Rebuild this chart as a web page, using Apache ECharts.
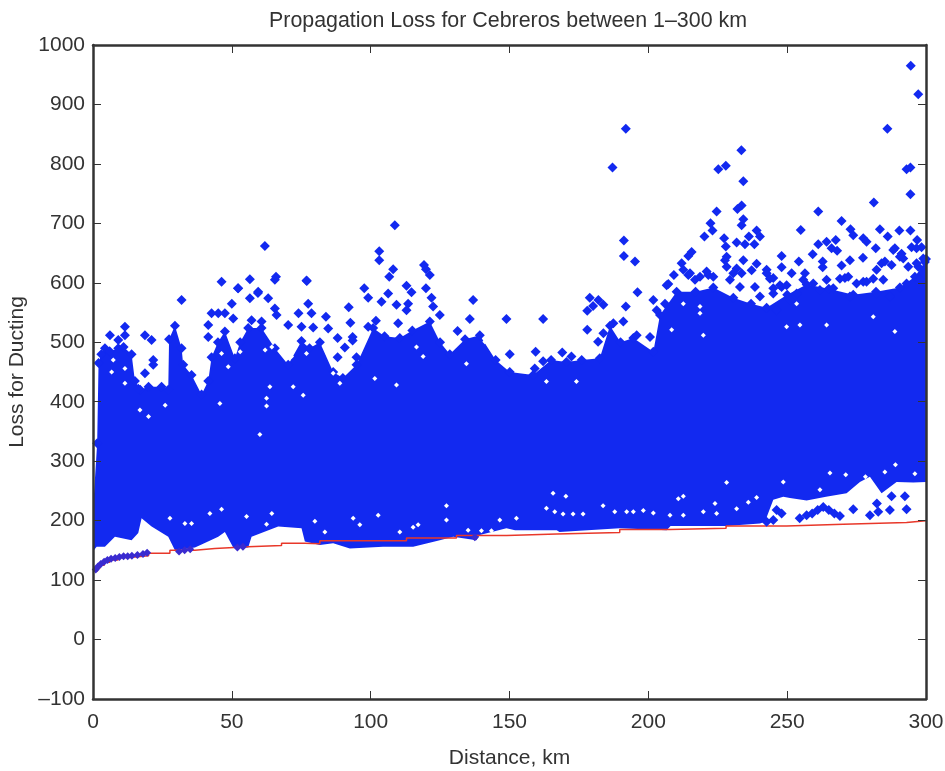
<!DOCTYPE html>
<html>
<head>
<meta charset="utf-8">
<title>Propagation Loss for Cebreros</title>
<script src="https://cdn.jsdelivr.net/npm/echarts@6/dist/echarts.min.js"></script>
<style>
  html, body { margin: 0; padding: 0; background: #fff; }
  #chart { width: 945px; height: 771px; }
</style>
</head>
<body>
<div id="chart"></div>
<script>
// top edge of the solid blue mass
const upperDist = [0.3, 1.5, 2, 3, 4.3, 6, 9.1, 11, 13.9, 15.1, 17, 20, 24.7, 27.1, 27.4, 29.5, 31.9, 32.5, 35.5, 39.1, 41.5, 42.7, 45, 47.5, 51.1, 53, 55.9, 60.7, 65.5, 70.3, 75.1, 78, 81.7, 86.5, 90, 94.9, 100.9, 105, 110.5, 115, 121.3, 125, 128.5, 134, 139.3, 145, 150.1, 158.5, 165, 170.5, 176, 182.5, 186.2, 190, 194.6, 201.8, 204.2, 210.2, 217, 223.4, 230.6, 237, 242.6, 250, 257, 265, 273.8, 282, 290.6, 296, 299.6, 300]
const upperLoss = [240, 330, 465, 480, 490, 485, 490, 492, 480, 435, 420, 425, 425, 420, 505, 528, 490, 462, 445, 412, 435, 475, 500, 518, 473, 500, 524, 524, 490, 462, 502, 490, 500, 450, 440, 462, 524, 510, 507, 520, 535, 500, 480, 505, 512, 470, 450, 445, 470, 467, 470, 473, 528, 500, 507, 484, 546, 585, 585, 592, 575, 565, 558, 580, 597, 590, 580, 585, 592, 610, 635, 640]

// bottom edge of the solid blue mass
const lowerDist = [0.3, 1.3, 4.3, 7.9, 13.9, 16.3, 17.5, 21.1, 27.1, 29.5, 36.7, 39.1, 45.1, 47.5, 50.5, 55.9, 57.1, 66.7, 75.1, 76.3, 81.7, 86.5, 92.5, 104.5, 115.3, 124.9, 129.7, 138.1, 139.3, 148.9, 152, 167, 168, 189.7, 206.6, 208, 228, 240.2, 242, 245, 248.6, 251, 257, 264, 271.4, 276.2, 279.8, 284, 289.4, 295.4, 300]
const lowerLoss = [150, 156, 156, 173, 167, 179, 204, 190, 173, 150, 155, 160, 173, 181, 155, 155, 173, 190, 187, 165, 159, 162, 153, 156, 156, 167, 173, 167, 176, 187, 184, 184, 181, 187, 184, 191, 191, 195, 198, 235, 240, 238, 234, 240, 246, 265, 274, 246, 265, 264, 265]

// the separate diamonds around the mass
const pointDist = [294.5, 297.2, 191.9, 286.1, 187.1, 225.2, 227.9, 233.5, 234.2, 293, 294.4, 294.4, 281.2, 261.2, 224.6, 233.6, 232.1, 234.2, 233.6, 269.6, 254.9, 222.4, 223.1, 220.2, 191.2, 191.2, 195.2, 196.1, 191.9, 183.8, 201.8, 283.4, 290.4, 294.4, 272.8, 273.8, 277.4, 278.6, 286.2, 239, 240.2, 236.2, 227.3, 227.9, 231.8, 234.8, 238.2, 296.8, 294.8, 298.4, 261.2, 264.2, 267.5, 266, 268, 215.6, 214.4, 259.2, 281.9, 288.8, 248, 254.2, 277.3, 212, 262.8, 262.8, 272.6, 269.6, 248, 251.6, 209.2, 207.2, 242.6, 245, 256.4,
  234.2, 231.8, 237.2, 233.6, 239, 228.2, 228.2, 214.4, 216.8, 221.6, 229.4, 243.8, 248, 245, 264.2, 270.8, 277.4, 284, 287.6, 291.8, 297.2, 282.2, 281, 284.6, 206, 203, 195.8, 200.6, 183.8, 187.4, 191,
  227.6, 230.6, 233, 212.6, 215, 218.6, 221, 223.4, 206.6, 238.4, 242.6, 247.4, 249.8, 255.8, 259.4, 269, 272, 275, 278.6, 285.2, 290.6, 293.6, 296.6, 299, 296.6, 288.2, 291.2, 253.4, 240.2, 245, 246.2, 251, 261.8, 266.6, 272.6, 282.2, 287, 293, 297.8,
  6.1, 11.5, 11.5, 9.1, 18.7, 21.1, 21.7, 21.7, 18.7, 16.3, 31.9, 46.3, 50, 52.3, 56.5, 59.5, 63.1, 65.5, 66.1, 45.1, 47.5, 42.7, 41.5, 41.5, 50.5, 57.1, 60.7, 70.3, 74, 75.1, 65.5, 61.9, 65.9, 56.5, 52.2, 59.4, 77,
  108.7, 103.1, 103.1, 119.2, 119.9, 121.3, 108.1, 106.7, 76.9, 97.7, 112.9, 114.7, 119.9, 99.1, 106.3, 103.9, 109.3, 113.5, 112.9, 121.9, 122.5, 136.9, 135.7, 148.9, 162.1, 77.5, 78.7, 83.9, 92.1, 92.7, 79.3, 84.7, 99.1, 101.9, 109.9, 124.9, 131.3, 88.1, 93.5, 93.5, 90.7, 88.1, 94.9, 178.9, 180.1, 178, 178, 181.9, 159.4, 162.1, 169, 172.3, 150.1, 159.1, 182,
  273.8, 287.6, 292.4, 287, 293, 282.8, 279.8, 282.3, 246.2, 248, 245, 242.6, 257, 259, 261, 263, 265, 267, 269, 254.5]
const pointLoss = [965, 917, 859, 859, 794, 791, 797, 823, 771, 791, 794, 749, 735, 720, 720, 730, 724, 707, 697, 704, 689, 700, 688, 678, 671, 645, 636, 584, 560, 563, 571, 690, 688, 688, 690, 680, 675, 669, 678, 688, 678, 678, 675, 661, 668, 665, 665, 672, 660, 660, 665, 669, 672, 658, 654, 652, 645, 648, 658, 658, 645, 636, 642, 633, 636, 626, 638, 629, 626, 616, 613, 598, 622, 608, 616,
  638, 624, 621, 616, 632, 644, 627, 613, 605, 613, 605, 607, 593, 582, 605, 608, 602, 633, 630, 641, 627, 622, 607, 605, 565, 554, 512, 509, 515, 532, 535,
  638, 616, 593, 622, 616, 610, 619, 610, 596, 593, 616, 596, 596, 605, 599, 607, 610, 599, 602, 636, 644, 627, 633, 641, 658, 655, 649, 582, 577, 591, 554, 571, 588, 591, 577, 582, 577, 599, 605,
  512, 526, 512, 504, 512, 504, 470, 462, 448, 422, 571, 602, 565, 591, 574, 585, 574, 557, 546, 549, 549, 549, 529, 509, 540, 537, 535, 529, 549, 526, 605, 662, 610, 606, 591, 583, 603,
  697, 653, 638, 630, 623, 613, 623, 610, 604, 591, 595, 584, 591, 575, 582, 568, 563, 565, 554, 575, 560, 571, 539, 539, 539, 565, 549, 543, 559, 533, 525, 523, 526, 536, 532, 546, 519, 507, 509, 503, 491, 475, 475, 575, 561, 553, 521, 501, 484, 468, 483, 476, 480, 456, 571,
  219, 241, 241, 218, 219, 215, 209, 229, 218, 212, 201, 198, 209, 212, 218, 223, 218, 212, 208, 204]

// small white holes where the paper shows through
const gapDist = [7.3, 6.7, 11.5, 11.5, 16.9, 20, 26, 45.7, 62.5, 62.5, 60.1, 27.7, 33.1, 35.5, 42.1, 46.3, 55.3, 64.4, 62.5, 63.7, 72.1, 46.3, 48.7, 62, 64.4, 71.5, 53,
  83.5, 79.9, 93.7, 96.1, 102.7, 110.5, 115.3, 117.1, 127.3, 127.3, 135.1, 139.9, 143.5, 146.5, 152.5, 163.3, 166.3, 169.3, 172.9, 176.5, 165.7, 170.3, 183.7, 187.9,
  192.2, 194.6, 198.2, 201.8, 207.8, 212.6, 219.8, 224.6, 231.8, 228.2, 212.6, 210.8, 236, 239, 248.6, 265.4, 271.1, 278.2, 285.2, 289, 296, 224, 261.8,
  249.8, 254.6, 219.8, 208.4, 218.6, 264.2, 253.4, 281, 288.8, 212.6, 218.6,
  86.5, 88.9, 116.5, 118.9, 134.5, 141.1, 148.9, 163.3, 174.1, 109.3, 101.5, 75.7, 76.9]
const gapLoss = [470, 450, 456, 431, 386, 375, 394, 397, 406, 393, 345, 204, 195, 195, 212, 219, 207, 212, 194, 425, 425, 481, 459, 487, 492, 476, 484,
  181, 199, 204, 193, 209, 181, 189, 193, 225, 201, 184, 183, 183, 201, 204, 221, 215, 211, 211, 211, 246, 241, 225, 215,
  215, 215, 217, 213, 209, 209, 215, 212, 220, 264, 241, 237, 231, 239, 265, 280, 277, 274, 282, 294, 279, 229, 252,
  526, 529, 512, 521, 549, 529, 565, 543, 518, 565, 560,
  448, 431, 492, 476, 464, 501, 464, 434, 434, 428, 439, 411, 481]

// red free-space line, it goes up in steps
const lineDist = [0.7, 1.5, 2.5, 4, 6, 9, 13, 20, 27.7, 36.7, 43.9, 55.9, 67.9, 76.3, 81.7, 112.9, 130.9, 149, 167, 189.7, 207.8, 228, 249.8, 270.2, 293, 300]
const lineLoss = [115, 120, 125, 130, 134, 138, 141, 145, 150, 153, 156, 158, 162, 161, 166, 171, 175, 177.5, 180, 185, 187, 191, 194, 197, 200, 200]

// purple diamonds sitting on the line
const lowDist = [1, 1.8, 2.8, 4, 5.2, 6.5, 8, 9.5, 11, 12.5, 14, 16, 18, 19.5, 31, 33, 35, 137.5, 52, 54]
const lowLoss = [118, 123, 127, 131, 134, 136, 137, 139, 140, 140, 141, 142, 144, 146, 148, 150, 152, 172, 155, 156]

const zip = (a, b) => a.map((v, i) => [v, b[i]])

const BLUE = '#1229f0'
const INK = '#333333'
const FONT = '"Liberation Sans", Arial, sans-serif'

const frameLine = { show: true, onZero: false, lineStyle: { color: INK, width: 2.5 } }
const innerTick = { show: true, inside: true, length: 8, lineStyle: { color: INK, width: 1 } }

// first stop sits on the frame, its diamond would stick out to the left
const upperData = zip(upperDist, upperLoss).map((p, i) => (i === 0 ? { value: p, symbol: 'none' } : p))

const chart = echarts.init(document.getElementById('chart'), null, { renderer: 'canvas' })

chart.setOption({
  animation: false,
  backgroundColor: '#ffffff',
  textStyle: { fontFamily: FONT },
  title: {
    text: 'Propagation Loss for Cebreros between 1–300 km',
    left: 503,
    top: 6,
    textAlign: 'center',
    textStyle: { fontFamily: FONT, fontSize: 21.4, fontWeight: 'normal', color: INK }
  },
  grid: { left: 93, top: 45, width: 833, height: 654, containLabel: false, outerBoundsMode: 'none' },
  xAxis: [
    {
      type: 'value', min: 0, max: 300, interval: 50, z: 5,
      name: 'Distance, km', nameLocation: 'middle', nameGap: 49,
      nameTextStyle: { fontFamily: FONT, fontSize: 21, color: INK },
      axisLine: frameLine, axisTick: innerTick, splitLine: { show: false },
      axisLabel: { color: INK, fontSize: 21, margin: 13, fontFamily: FONT, showMinLabel: true, showMaxLabel: true }
    },
    {
      type: 'value', position: 'top', min: 0, max: 300, interval: 50, z: 5,
      axisLine: frameLine, axisTick: innerTick, splitLine: { show: false }, axisLabel: { show: false }
    }
  ],
  yAxis: [
    {
      type: 'value', min: -100, max: 1000, interval: 100, z: 5,
      name: 'Loss for Ducting', nameLocation: 'middle', nameGap: 49,
      nameTextStyle: { fontFamily: FONT, fontSize: 21, color: INK },
      axisLine: frameLine, axisTick: innerTick, splitLine: { show: false },
      axisLabel: {
        color: INK, fontSize: 21, margin: 8, fontFamily: FONT,
        formatter: v => String(v).replace('-', '–')
      }
    },
    {
      type: 'value', position: 'right', min: -100, max: 1000, interval: 100, z: 5,
      axisLine: frameLine, axisTick: innerTick, splitLine: { show: false }, axisLabel: { show: false }
    }
  ],
  series: [
    {
      // blue down to the axis, the next series whites out what lies under the mass
      name: 'upper',
      type: 'line',
      data: upperData,
      symbol: 'diamond',
      symbolSize: 10,
      showAllSymbol: true,
      itemStyle: { color: BLUE, opacity: 1 },
      lineStyle: { color: BLUE, width: 0 },
      areaStyle: { color: BLUE, opacity: 1, origin: 'start' },
      z: 2
    },
    {
      name: 'lower',
      type: 'line',
      data: zip(lowerDist, lowerLoss),
      showSymbol: false,
      lineStyle: { width: 0 },
      areaStyle: { color: '#ffffff', opacity: 1, origin: 'start' },
      z: 3
    },
    {
      name: 'points',
      type: 'scatter',
      data: zip(pointDist, pointLoss),
      symbol: 'diamond',
      symbolSize: 10,
      itemStyle: { color: BLUE, opacity: 1 },
      z: 4
    },
    {
      name: 'gaps',
      type: 'scatter',
      data: zip(gapDist, gapLoss),
      symbol: 'diamond',
      symbolSize: 5,
      itemStyle: { color: '#ffffff', opacity: 1 },
      z: 4
    },
    {
      name: 'low',
      type: 'scatter',
      data: zip(lowDist, lowLoss),
      symbol: 'diamond',
      symbolSize: 8,
      itemStyle: { color: '#3a2bd0', opacity: 1 },
      z: 4
    },
    {
      name: 'line',
      type: 'line',
      step: 'end',
      data: zip(lineDist, lineLoss),
      showSymbol: false,
      lineStyle: { color: '#e8382a', width: 1.5 },
      z: 4
    }
  ]
})
</script>
</body>
</html>
